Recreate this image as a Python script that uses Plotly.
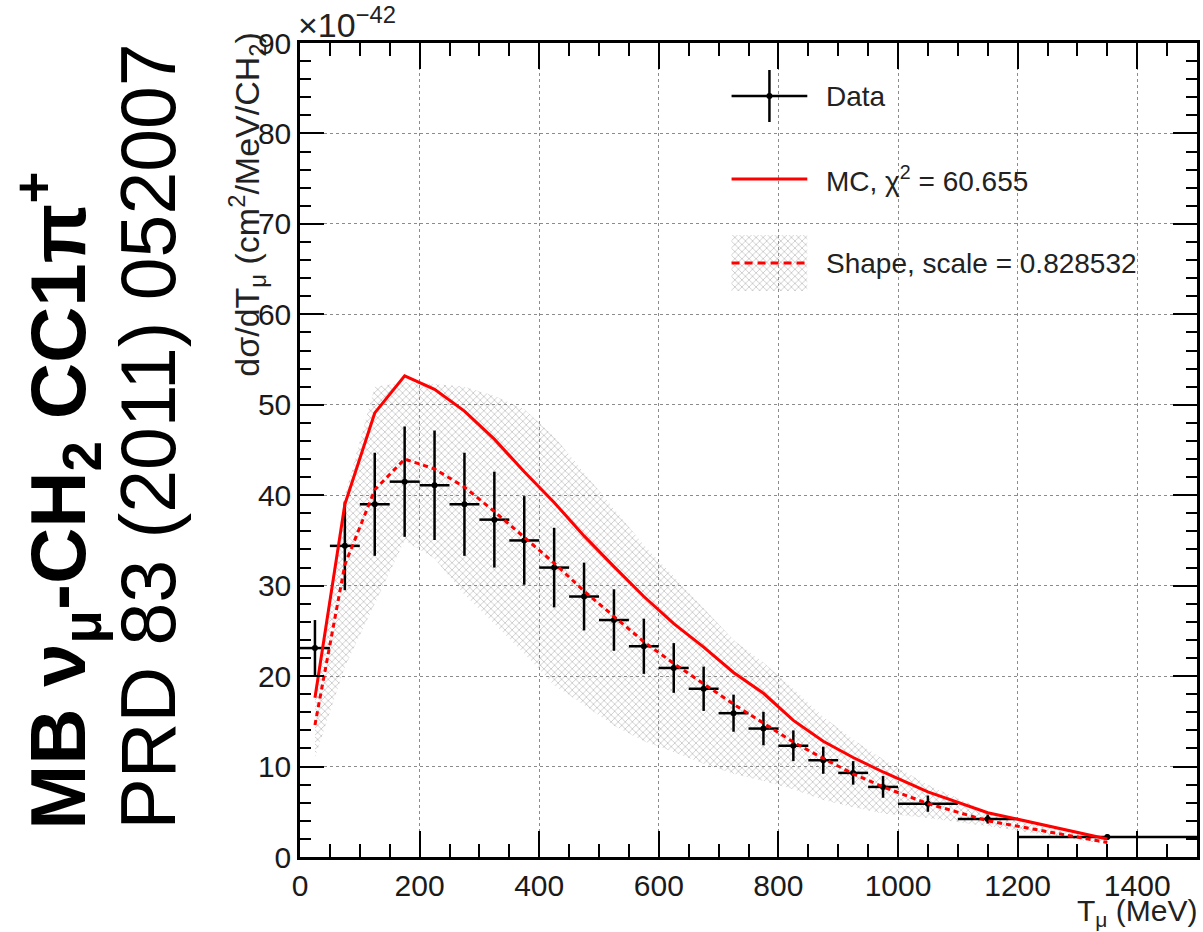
import plotly.graph_objects as go

# ---------------- data (values in units of 1e-42 cm^2/MeV/CH2) ----------------
T_CENTER = [25, 75, 125, 175, 225, 275, 325, 375, 425, 475, 525, 575, 625, 675,
            725, 775, 825, 875, 925, 975, 1050, 1150, 1350]
T_HALFWIDTH = [25, 25, 25, 25, 25, 25, 25, 25, 25, 25, 25, 25, 25, 25,
               25, 25, 25, 25, 25, 25, 50, 50, 150]

DATA_XSEC = [23.1, 34.4, 39.0, 41.5, 41.1, 39.0, 37.3, 35.0, 32.0, 28.8, 26.2, 23.3,
             20.9, 18.6, 15.9, 14.2, 12.3, 10.7, 9.3, 7.75, 5.9, 4.2, 2.2]
DATA_ERR = [3.1, 4.9, 5.7, 6.1, 6.05, 5.7, 5.3, 4.9, 4.4, 3.75, 3.4, 3.05,
            2.75, 2.45, 2.05, 1.85, 1.7, 1.5, 1.3, 1.2, 0.9, 0.5, 0.3]

MC_XSEC = [17.6, 39.0, 49.1, 53.2, 51.7, 49.3, 46.2, 42.6, 39.2, 35.5, 32.1, 28.8,
           25.8, 23.2, 20.4, 18.1, 15.1, 12.8, 11.0, 9.4, 7.2, 4.9, 2.0]
SHAPE_XSEC = [14.6, 32.3, 40.6, 44.0, 42.9, 40.9, 38.2, 35.3, 32.5, 29.4, 26.6, 23.8,
              21.4, 19.2, 16.9, 14.8, 12.7, 10.9, 9.2, 7.75, 5.9, 4.0, 1.6]
BAND_UPPER = [18.5, 40.0, 52.0, 52.5, 52.3, 52.0, 51.0, 49.5, 46.5, 42.5, 38.5, 34.5,
              31.0, 27.5, 24.0, 21.5, 18.6, 15.5, 13.0, 10.8, 8.0, 5.0, 2.0]
BAND_LOWER = [11.0, 21.0, 28.0, 35.0, 33.0, 29.0, 25.8, 22.5, 19.0, 16.8, 14.5, 12.8,
              11.6, 10.3, 9.2, 8.4, 7.5, 6.3, 5.5, 4.8, 4.3, 3.4, 1.4]

LEGEND_LABELS = ["Data", "MC, χ<sup>2</sup> = 60.655", "Shape, scale = 0.828532"]

X_TICKS = [0, 200, 400, 600, 800, 1000, 1200, 1400]
Y_TICKS = [0, 10, 20, 30, 40, 50, 60, 70, 80, 90]

FONT = "Liberation Sans, Arial, Helvetica, sans-serif"
RED = "#ff0000"
HATCH = dict(shape="x", fgcolor="#8f8f8f", bgcolor="rgba(255,255,255,0)", size=5, solidity=0.3)

fig = go.Figure()

# shape uncertainty band (cross-hatched)
fig.add_trace(go.Scatter(
    x=T_CENTER + T_CENTER[::-1], y=BAND_UPPER + BAND_LOWER[::-1],
    fill="toself", fillcolor="rgba(0,0,0,0)", fillpattern=HATCH,
    mode="lines", line=dict(width=0), showlegend=False, hoverinfo="skip"))

# data
fig.add_trace(go.Scatter(
    x=T_CENTER, y=DATA_XSEC, mode="markers",
    marker=dict(color="black", size=6),
    error_x=dict(type="data", array=T_HALFWIDTH, width=0, thickness=2.5, color="black"),
    error_y=dict(type="data", array=DATA_ERR, width=0, thickness=2.5, color="black"),
    showlegend=False))

# MC
fig.add_trace(go.Scatter(x=T_CENTER, y=MC_XSEC, mode="lines",
                         line=dict(color=RED, width=3), showlegend=False))
# shape-only
fig.add_trace(go.Scatter(x=T_CENTER, y=SHAPE_XSEC, mode="lines",
                         line=dict(color=RED, width=3, dash="5px,4px"), showlegend=False))

# ---------------- hand-drawn ROOT-style legend on an overlay axis (pixel-like units) ----------------
LEG = dict(x0=733, x1=809, xt=826, rows=[96, 179, 263], half=26, box_h=28)
xm = (LEG["x0"] + LEG["x1"]) / 2
r0, r1, r2 = LEG["rows"]
fig.add_trace(go.Scatter(x=[LEG["x0"], LEG["x1"], None, xm, xm],
                         y=[r0, r0, None, r0 - LEG["half"], r0 + LEG["half"]],
                         xaxis="x2", yaxis="y2", mode="lines",
                         line=dict(color="black", width=2.5), showlegend=False, hoverinfo="skip"))
fig.add_trace(go.Scatter(x=[xm], y=[r0], xaxis="x2", yaxis="y2", mode="markers",
                         marker=dict(color="black", size=6), showlegend=False, hoverinfo="skip"))
fig.add_trace(go.Scatter(x=[LEG["x0"], LEG["x1"]], y=[r1, r1], xaxis="x2", yaxis="y2",
                         mode="lines", line=dict(color=RED, width=3), showlegend=False, hoverinfo="skip"))
fig.add_trace(go.Scatter(x=[LEG["x0"], LEG["x1"], LEG["x1"], LEG["x0"], LEG["x0"]],
                         y=[r2 - LEG["box_h"], r2 - LEG["box_h"], r2 + LEG["box_h"], r2 + LEG["box_h"], r2 - LEG["box_h"]],
                         xaxis="x2", yaxis="y2", fill="toself", fillcolor="rgba(0,0,0,0)",
                         fillpattern=HATCH, mode="lines", line=dict(width=0),
                         showlegend=False, hoverinfo="skip"))
fig.add_trace(go.Scatter(x=[LEG["x0"], LEG["x1"]], y=[r2, r2], xaxis="x2", yaxis="y2",
                         mode="lines", line=dict(color=RED, width=3, dash="8px,5px"),
                         showlegend=False, hoverinfo="skip"))

annotations = []
for lab, row in zip(LEGEND_LABELS, LEG["rows"]):
    annotations.append(dict(text=lab, x=LEG["xt"], y=row, xref="x2", yref="y2",
                            xanchor="left", yanchor="middle", showarrow=False,
                            font=dict(family=FONT, size=28, color="#222222")))

W, H = 1203, 932
ML, MR, MT, MB = 300, 3, 43, 75
PW, PH = W - ML - MR, H - MT - MB


def px(xp):
    return (xp - ML) / PW


def py(yp):
    return (H - MB - yp) / PH


annotations += [
    dict(text="<b>MB ν<sub>μ</sub>-CH<sub>2</sub> CC1π<sup>+</sup></b>", textangle=-90,
         x=px(57), y=py(832), xref="paper", yref="paper", xanchor="center", yanchor="bottom",
         showarrow=False, font=dict(family=FONT, size=78, color="black")),
    dict(text="PRD 83 (2011) 052007", textangle=-90,
         x=px(147), y=py(832), xref="paper", yref="paper", xanchor="center", yanchor="bottom",
         showarrow=False, font=dict(family=FONT, size=77, color="black")),
    dict(text="dσ/dT<sub>μ</sub> (cm<sup>2</sup>/MeV/CH<sub>2</sub>)", textangle=-90,
         x=px(246), y=py(30), xref="paper", yref="paper", xanchor="center", yanchor="top",
         showarrow=False, font=dict(family=FONT, size=34, color="#222222")),
    dict(text="T<sub>μ</sub> (MeV)", x=px(1202), y=py(933), xref="paper", yref="paper",
         xanchor="right", yanchor="bottom", showarrow=False,
         font=dict(family=FONT, size=30, color="#222222")),
    dict(text="×10<sup>−42</sup>", x=px(296), y=py(46), xref="paper", yref="paper",
         xanchor="left", yanchor="bottom", showarrow=False,
         font=dict(family=FONT, size=34, color="#222222")),
]

axis_common = dict(showline=True, linecolor="black", linewidth=2.5, mirror="allticks",
                   ticks="inside", tickcolor="black", tickwidth=2,
                   showgrid=True, gridcolor="#8c8c8c", gridwidth=1, griddash="dot",
                   zeroline=False, tickfont=dict(family=FONT, size=30, color="#1a1a1a"))

fig.update_layout(
    width=W, height=H, margin=dict(l=ML, r=MR, t=MT, b=MB),
    paper_bgcolor="white", plot_bgcolor="white", showlegend=False,
    xaxis=dict(range=[0, 1500], tickvals=X_TICKS, ticklen=26,
               minor=dict(dtick=50, ticks="inside", ticklen=13, tickcolor="black", tickwidth=1.5, showgrid=False),
               **axis_common),
    yaxis=dict(range=[0, 90], tickvals=Y_TICKS, ticklen=24,
               minor=dict(dtick=2, ticks="inside", ticklen=11, tickcolor="black", tickwidth=1.5, showgrid=False),
               **axis_common),
    xaxis2=dict(domain=[0, 1], range=[ML, ML + PW], visible=False, overlaying="x", anchor="y2"),
    yaxis2=dict(domain=[0, 1], range=[H - MB, MT], visible=False, overlaying="y", anchor="x2"),
    annotations=annotations,
)

fig.write_html("out.html")
